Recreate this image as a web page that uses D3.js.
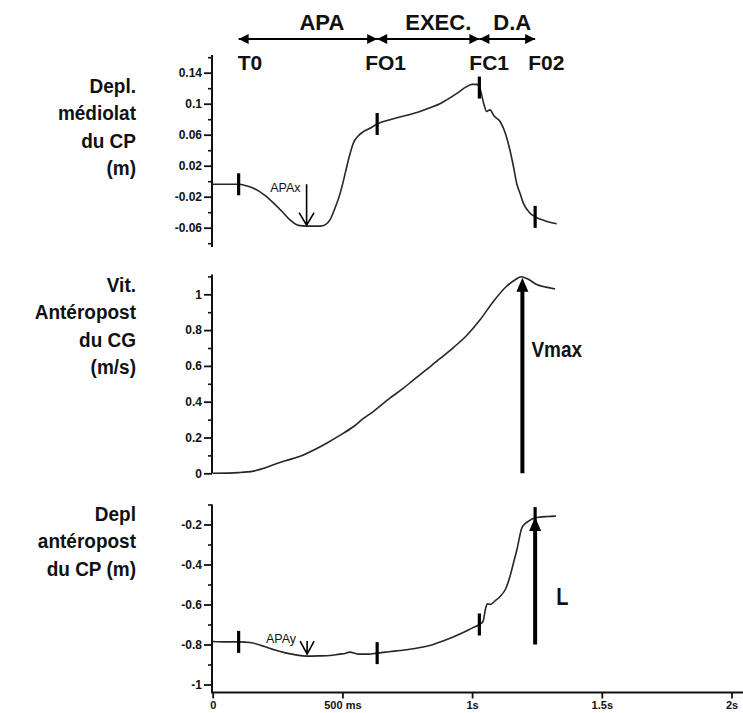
<!DOCTYPE html>
<html>
<head>
<meta charset="utf-8">
<script src="https://cdn.jsdelivr.net/npm/d3@7"></script>
<style>
  html, body { margin: 0; padding: 0; background: #fff; }
  svg { display: block; }
  text { font-family: "Liberation Sans", Arial, sans-serif; fill: #111; }
</style>
</head>
<body>
<svg id="chart" width="743" height="713"></svg>
<script>
// ---------- DATA ----------
// time in seconds
const eventNames = ["T0", "FO1", "FC1", "F02"];
const eventTimes = [0.10, 0.634, 1.028, 1.243];
const phaseLabels = ["APA", "EXEC.", "D.A"];

// Panel 1 : Depl. médiolat du CP (m)
const mlTime = [0.0, 0.05, 0.101, 0.13, 0.157, 0.2, 0.234, 0.27, 0.298, 0.33, 0.362, 0.39, 0.414, 0.435, 0.452, 0.47, 0.491, 0.505, 0.517, 0.53, 0.542, 0.56, 0.581, 0.61, 0.635, 0.69, 0.748, 0.799, 0.84, 0.876, 0.902, 0.94, 0.979, 1.0, 1.018, 1.03, 1.045, 1.056, 1.069, 1.085, 1.108, 1.13, 1.146, 1.16, 1.172, 1.185, 1.197, 1.22, 1.243, 1.28, 1.326];
const mlValue = [-0.004, -0.004, -0.004, -0.006, -0.009, -0.018, -0.028, -0.040, -0.050, -0.057, -0.058, -0.058, -0.058, -0.056, -0.050, -0.036, -0.016, 0.002, 0.019, 0.036, 0.049, 0.058, 0.064, 0.069, 0.074, 0.080, 0.085, 0.090, 0.095, 0.100, 0.105, 0.113, 0.122, 0.125, 0.125, 0.120, 0.100, 0.090, 0.092, 0.084, 0.077, 0.060, 0.040, 0.018, -0.003, -0.016, -0.028, -0.040, -0.046, -0.051, -0.055];

// Panel 2 : Vit. Antéropost du CG (m/s)
const vTime = [0.0, 0.1, 0.157, 0.19, 0.234, 0.28, 0.337, 0.39, 0.439, 0.49, 0.542, 0.58, 0.619, 0.683, 0.73, 0.773, 0.82, 0.876, 0.93, 0.979, 1.03, 1.082, 1.133, 1.165, 1.19, 1.215, 1.249, 1.285, 1.32];
const vValue = [0.0, 0.004, 0.012, 0.025, 0.048, 0.07, 0.095, 0.13, 0.168, 0.212, 0.26, 0.305, 0.345, 0.42, 0.47, 0.52, 0.575, 0.64, 0.705, 0.77, 0.856, 0.96, 1.045, 1.08, 1.098, 1.085, 1.055, 1.04, 1.03];

// Panel 3 : Depl antéropost du CP (m)
const apTime = [0.0, 0.05, 0.101, 0.144, 0.2, 0.24, 0.28, 0.32, 0.362, 0.41, 0.452, 0.49, 0.51, 0.529, 0.56, 0.6, 0.635, 0.68, 0.722, 0.76, 0.8, 0.85, 0.888, 0.953, 1.0, 1.028, 1.042, 1.052, 1.059, 1.069, 1.09, 1.108, 1.13, 1.146, 1.16, 1.172, 1.191, 1.205, 1.216, 1.236, 1.262, 1.29, 1.323];
const apValue = [-0.785, -0.787, -0.787, -0.79, -0.81, -0.828, -0.842, -0.852, -0.858, -0.857, -0.855, -0.848, -0.845, -0.838, -0.848, -0.848, -0.843, -0.836, -0.83, -0.824, -0.815, -0.80, -0.783, -0.748, -0.718, -0.70, -0.685, -0.62, -0.596, -0.60, -0.58, -0.56, -0.52, -0.46, -0.39, -0.33, -0.22, -0.195, -0.185, -0.17, -0.163, -0.16, -0.158];

// Axis ticks
const ticks1 = [0.14, 0.1, 0.06, 0.02, -0.02, -0.06];
const minor1 = [0.16, 0.12, 0.08, 0.04, 0.0, -0.04, -0.08];
const ticks2 = [0, 0.2, 0.4, 0.6, 0.8, 1];
const minor2 = [0.1, 0.3, 0.5, 0.7, 0.9, 1.1];
const ticks3 = [-0.2, -0.4, -0.6, -0.8, -1];
const minor3 = [-0.1, -0.3, -0.5, -0.7, -0.9];
const xTicks = [0, 0.5, 1, 1.5, 2];
const xTickLabels = ["0", "500 ms", "1s", "1.5s", "2s"];

const label1 = ["Depl.", "médiolat", "du CP", "(m)"];
const label2 = ["Vit.", "Antéropost", "du CG", "(m/s)"];
const label3 = ["Depl", "antéropost", "du CP (m)"];

// ---------- SCALES ----------
const svg = d3.select("#chart");
const x = d3.scaleLinear().domain([0, 2]).range([212.7, 731.5]);
const y1 = d3.scaleLinear().domain([-0.06, 0.14]).range([227.7, 72.7]);
const y2 = d3.scaleLinear().domain([0, 1]).range([473.3, 294.3]);
const y3 = d3.scaleLinear().domain([-1, -0.2]).range([684.5, 524.5]);

const axisX = 212;
const ink = "#111";
const FONT = "'Liberation Sans', Arial, sans-serif";

function interp(ts, vs, t) {
  const i = d3.bisectLeft(ts, t);
  if (i <= 0) return vs[0];
  if (i >= ts.length) return vs[vs.length - 1];
  const f = (t - ts[i - 1]) / (ts[i] - ts[i - 1]);
  return vs[i - 1] + f * (vs[i] - vs[i - 1]);
}

function yAxis(scale, major, minor, top, bottom) {
  const g = svg.append("g").attr("transform", `translate(${axisX},0)`);
  g.append("g").call(d3.axisLeft(scale).tickValues(minor).tickSize(4).tickFormat(""))
    .call(s => s.select(".domain").remove())
    .call(s => s.selectAll("line").attr("stroke", ink).attr("stroke-width", 1.6));
  g.append("g").call(d3.axisLeft(scale).tickValues(major).tickSize(8).tickPadding(2).tickFormat(d => String(d)))
    .call(s => s.select(".domain").remove())
    .call(s => s.selectAll("line").attr("stroke", ink).attr("stroke-width", 1.8))
    .call(s => s.selectAll("text").attr("font-size", 12).attr("font-weight", "bold")
      .attr("font-family", FONT).attr("fill", "#222"));
  g.append("line").attr("x1", 0).attr("x2", 0)
    .attr("y1", scale(top)).attr("y2", bottom)
    .attr("stroke", ink).attr("stroke-width", 2);
}

yAxis(y1, ticks1, minor1, 0.163, y1(-0.085));
yAxis(y2, ticks2, minor2, 1.11, y2(0));
yAxis(y3, ticks3, minor3, -0.1, 693);

// x axis
const gx = svg.append("g").attr("transform", "translate(0,692.5)");
gx.call(d3.axisBottom(x).tickValues(xTicks).tickSize(6).tickPadding(3).tickFormat((d, i) => xTickLabels[i]))
  .call(s => s.select(".domain").remove())
  .call(s => s.selectAll("line").attr("stroke", ink).attr("stroke-width", 1.8))
  .call(s => s.selectAll("text").attr("font-size", 11).attr("font-weight", "bold")
    .attr("font-family", FONT).attr("fill", "#222"));
gx.append("line").attr("x1", axisX - 1).attr("x2", 743).attr("y1", 0).attr("y2", 0)
  .attr("stroke", ink).attr("stroke-width", 2);

// ---------- CURVES ----------
function curve(ts, vs, yScale) {
  const line = d3.line().x(d => x(d[0])).y(d => yScale(d[1])).curve(d3.curveMonotoneX);
  svg.append("path").datum(ts.map((t, i) => [t, vs[i]]))
    .attr("d", line).attr("fill", "none").attr("stroke", "#262626").attr("stroke-width", 1.6);
}
curve(mlTime, mlValue, y1);
curve(vTime, vValue, y2);
curve(apTime, apValue, y3);

// event markers
function markers(ts, vs, yScale) {
  eventTimes.forEach(t => {
    const cy = yScale(interp(ts, vs, t));
    svg.append("line").attr("x1", x(t)).attr("x2", x(t)).attr("y1", cy - 11).attr("y2", cy + 11)
      .attr("stroke", "#000").attr("stroke-width", 3.2);
  });
}
markers(mlTime, mlValue, y1);
markers(apTime, apValue, y3);

// ---------- HEADER ----------
const defs = svg.append("defs");
defs.append("marker").attr("id", "ah").attr("viewBox", "0 0 10 10").attr("refX", 10).attr("refY", 5)
  .attr("markerWidth", 12).attr("markerHeight", 10).attr("markerUnits", "userSpaceOnUse")
  .attr("orient", "auto-start-reverse")
  .append("path").attr("d", "M0,0 L10,5 L0,10 Z").attr("fill", "#000");

const headerY = 39;
const phaseShift = [14, 10, 5];
for (let i = 0; i < 3; i++) {
  const xa = x(eventTimes[i]), xb = x(eventTimes[i + 1]);
  svg.append("line").attr("x1", xa).attr("x2", xb).attr("y1", headerY).attr("y2", headerY)
    .attr("stroke", "#000").attr("stroke-width", 2)
    .attr("marker-start", "url(#ah)").attr("marker-end", "url(#ah)");
  svg.append("text").attr("x", (xa + xb) / 2 + phaseShift[i]).attr("y", 30).attr("text-anchor", "middle")
    .attr("font-size", 22).attr("font-weight", "bold").text(phaseLabels[i]);
}
const evShift = [-1, -12, -10, -7];
eventNames.forEach((n, i) => {
  svg.append("text").attr("x", x(eventTimes[i]) + evShift[i])
    .attr("y", 70).attr("font-size", 21).attr("font-weight", "bold").text(n);
});

// ---------- LEFT LABELS ----------
function leftLabel(lines, baseY) {
  lines.forEach((l, i) => {
    svg.append("text").attr("text-anchor", "end").attr("font-size", 19).attr("font-weight", "bold")
      .attr("transform", `translate(136,${baseY + i * 27.3}) scale(1,1.08)`).text(l);
  });
}
leftLabel(label1, 93);
leftLabel(label2, 292);
leftLabel(label3, 521);

// ---------- ANNOTATIONS ----------
// APAx
const apaxT = 0.362;
const apaxX = x(apaxT), apaxTip = y1(interp(mlTime, mlValue, apaxT)) - 1;
svg.append("path").attr("d", `M${apaxX},${apaxTip - 41} L${apaxX},${apaxTip} M${apaxX - 7.5},${apaxTip - 12.5} L${apaxX},${apaxTip} L${apaxX + 7.5},${apaxTip - 12.5}`)
  .attr("fill", "none").attr("stroke", "#000").attr("stroke-width", 1.6);
svg.append("text").attr("x", apaxX - 6).attr("y", 192).attr("text-anchor", "end")
  .attr("font-size", 12.5).text("APAx");

// APAy
const apayT = 0.364;
const apayX = x(apayT), apayTip = y3(interp(apTime, apValue, apayT)) - 2;
svg.append("path").attr("d", `M${apayX},${apayTip - 13} L${apayX},${apayTip} M${apayX - 7},${apayTip - 13} L${apayX},${apayTip} L${apayX + 7},${apayTip - 13}`)
  .attr("fill", "none").attr("stroke", "#000").attr("stroke-width", 1.6);
svg.append("text").attr("x", apayX - 11).attr("y", 643).attr("text-anchor", "end")
  .attr("font-size", 12.5).text("APAy");

// Thick arrows
function bigArrow(xp, yBottom, yTip) {
  svg.append("line").attr("x1", xp).attr("x2", xp).attr("y1", yBottom).attr("y2", yTip + 10)
    .attr("stroke", "#000").attr("stroke-width", 4);
  svg.append("path").attr("d", `M${xp},${yTip} L${xp - 6},${yTip + 14} L${xp + 6},${yTip + 14} Z`).attr("fill", "#000");
}
// Vmax at the velocity peak
const peakIdx = d3.maxIndex(vValue);
const vmaxX = x(vTime[peakIdx]) + 1;
bigArrow(vmaxX, y2(0), y2(vValue[peakIdx]) + 1);
svg.append("text").attr("font-size", 19).attr("font-weight", "bold")
  .attr("transform", `translate(${vmaxX + 9},357) scale(1,1.2)`).text("Vmax");

// L at F02
const lX = x(eventTimes[3]);
bigArrow(lX, y3(-0.8), y3(interp(apTime, apValue, eventTimes[3])) - 1);
svg.append("text").attr("font-size", 20).attr("font-weight", "bold")
  .attr("transform", `translate(${lX + 21},605) scale(1,1.2)`).text("L");
</script>
</body>
</html>
